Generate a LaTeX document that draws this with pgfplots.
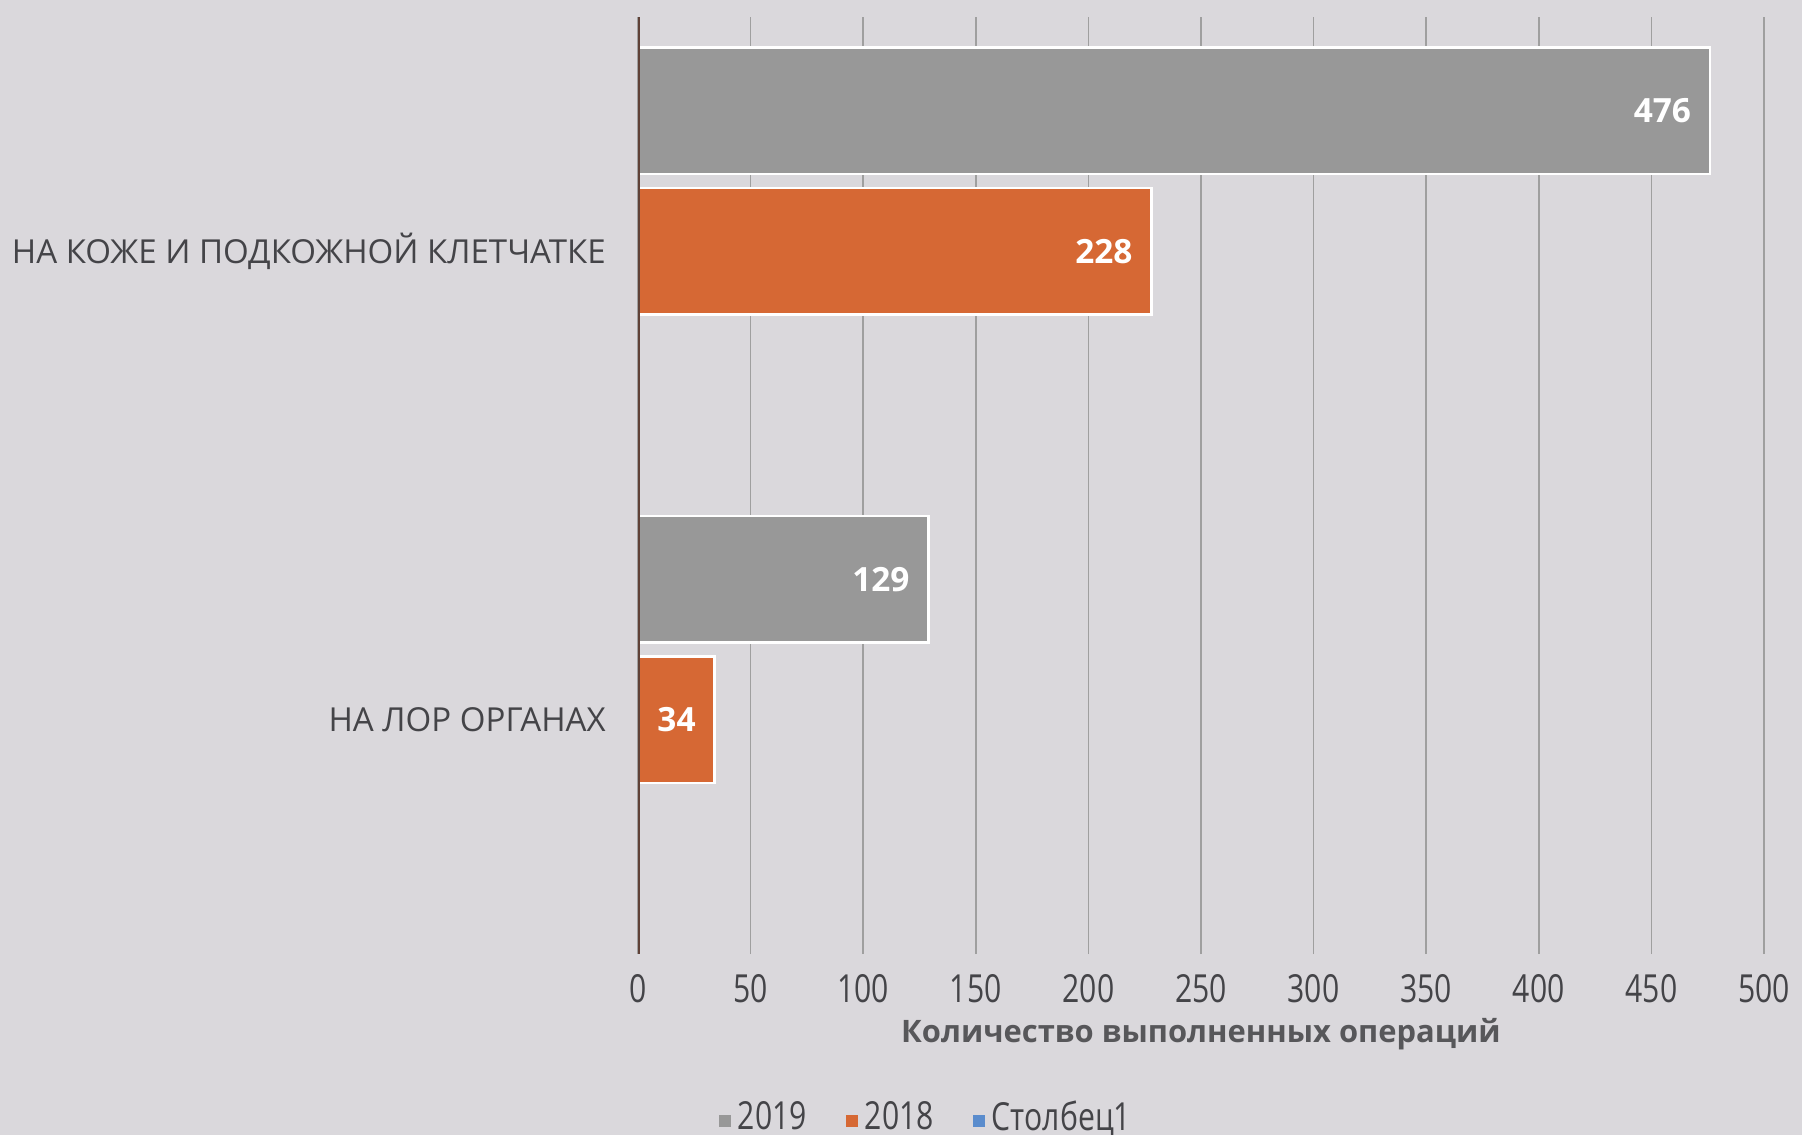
\documentclass[border=0pt]{standalone}
\usepackage{graphicx}
\usepackage{pgfplots}
\pgfplotsset{compat=1.18}
\usepackage{fontspec}
\setmainfont{Open Sans}
\definecolor{bg}{RGB}{218,216,220}
\definecolor{bargrey}{RGB}{152,152,152}
\definecolor{barorange}{RGB}{214,104,52}
\definecolor{legblue}{RGB}{90,140,205}
\definecolor{txt}{RGB}{68,68,72}
\definecolor{axisc}{RGB}{95,65,55}
\newcommand{\cond}[1]{\scalebox{0.78}[1]{#1}}
\pgfplotstableread{
y v
1 476
0 129
}\tabA
\pgfplotstableread{
y v
1 228
0 34
}\tabB
\begin{document}
\begin{tikzpicture}
\fill[bg] (0,0) rectangle (18.02cm,11.35cm);
\useasboundingbox (0,0) rectangle (18.02cm,11.35cm);
\begin{axis}[
  at={(6.38cm,1.81cm)}, anchor=south west,
  scale only axis, width=11.26cm, height=9.37cm,
  xbar, bar width=0.27,
  xmin=0, xmax=500, ymin=-0.5, ymax=1.5,
  xtick={0,50,...,500},
  xticklabels={\cond{0},\cond{50},\cond{100},\cond{150},\cond{200},\cond{250},\cond{300},\cond{350},\cond{400},\cond{450},\cond{500}},
  ytick={0,1},
  yticklabels={НА ЛОР ОРГАНАХ, НА КОЖЕ И ПОДКОЖНОЙ КЛЕТЧАТКЕ},
  major tick length=0pt,
  axis line style={draw=none},
  xmajorgrids, ymajorgrids=false,
  grid style={gray!75, line width=0.5pt},
  xticklabel style={font=\fontsize{11}{13}\selectfont, text=txt, anchor=north, inner sep=0pt, yshift=-5.5pt},
  yticklabel style={font=\fontsize{9.4}{11}\selectfont, text=txt, anchor=east, inner sep=0pt, xshift=-9pt},
  xlabel={\textbf{Количество выполненных операций}},
  xlabel style={font=\fontsize{8.8}{11}\selectfont, text=txt!90, at={(axis description cs:0.5,-0.085)}, anchor=center},
  /pgf/number format/assume math mode=true,
  nodes near coords,
  nodes near coords style={font=\bfseries\fontsize{9.5}{11}\selectfont, text=white, anchor=east, inner sep=0pt, xshift=-5pt},
  legend columns=3,
  legend style={at={(0.258,-0.175)}, anchor=center, draw=none, fill=none,
    font=\fontsize{11}{13}\selectfont, text=txt,
    /tikz/every even column/.append style={column sep=0.32cm}},
  legend image code/.code={\fill[#1, draw=none] (0cm,-0.09cm) rectangle (0.12cm,0.03cm);},
]
\addplot[fill=bargrey, draw=white, line width=0.8pt, bar shift=0.3] table[x=v, y=y] {\tabA};
\addlegendentry{\cond{2019}}
\addplot[fill=barorange, draw=white, line width=0.8pt, bar shift=0] table[x=v, y=y] {\tabB};
\addlegendentry{\cond{2018}}
\addlegendimage{fill=legblue, draw=none}
\addlegendentry{\cond{Столбец1}}
\draw[axisc, line width=1.3pt] (rel axis cs:0,0) -- (rel axis cs:0,1);
\end{axis}
\end{tikzpicture}
\end{document}
